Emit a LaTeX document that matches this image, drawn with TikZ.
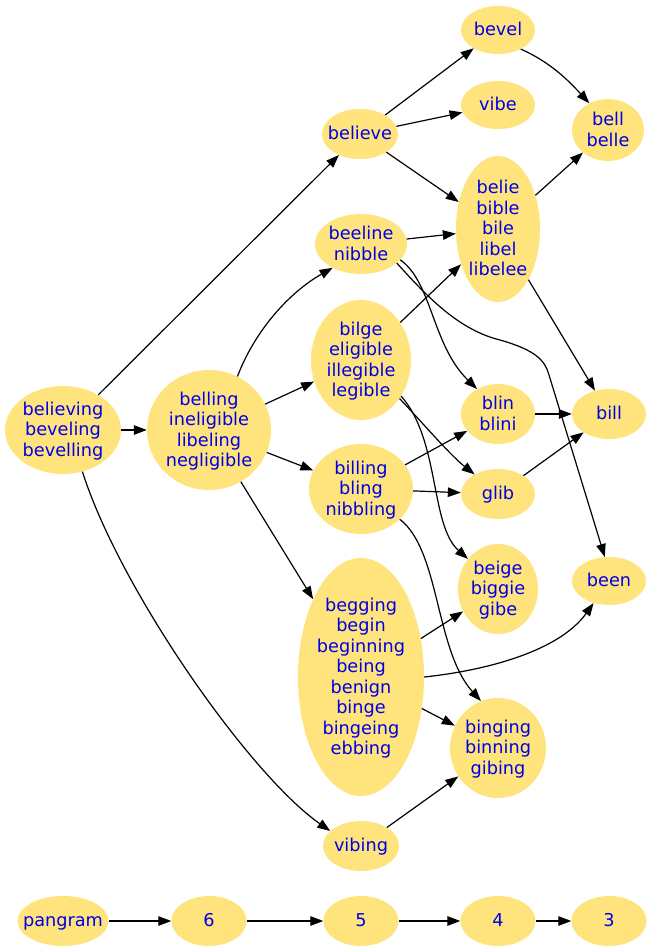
\documentclass[tikz,border=0pt]{standalone}
\usepackage{fontspec}
\setmainfont{DejaVu Sans}
\usetikzlibrary{shapes.geometric,arrows.meta}
\definecolor{nodefill}{RGB}{255,228,125}
\definecolor{nodetext}{RGB}{0,0,230}
\newcommand\lnstrut{\rule[-4.5pt]{0pt}{20.5pt}}
\tikzset{
  word/.style={ellipse, fill=nodefill, text=nodetext, inner xsep=-25pt, inner ysep=0pt, align=center,
    font=\fontsize{17.7}{20.5}\selectfont},
  arr/.style={draw=black, line width=1.2pt, -{Triangle[length=13pt,width=9.5pt]}}
}
\begin{document}
\begin{tikzpicture}[x=1pt,y=-1pt]
\useasboundingbox (0,0) rectangle (653,951);
% nodes
\node[word, minimum width=116, minimum height=88] (believing) at (63,430) {\lnstrut believing\\\lnstrut beveling\\\lnstrut bevelling};
\node[word, minimum width=124, minimum height=120] (belling) at (209,430) {\lnstrut belling\\\lnstrut ineligible\\\lnstrut libeling\\\lnstrut negligible};
\node[word, minimum width=76, minimum height=50] (believe) at (360,134) {\lnstrut believe};
\node[word, minimum width=74, minimum height=48] (bevel) at (498,30) {\lnstrut bevel};
\node[word, minimum width=74, minimum height=48] (vibe) at (498,105) {\lnstrut vibe};
\node[word, minimum width=72, minimum height=62] (bell) at (608,130) {\lnstrut bell\\\lnstrut belle};
\node[word, minimum width=84, minimum height=146] (belie) at (498,229) {\lnstrut belie\\\lnstrut bible\\\lnstrut bile\\\lnstrut libel\\\lnstrut libelee};
\node[word, minimum width=92, minimum height=60] (beeline) at (361,244) {\lnstrut beeline\\\lnstrut nibble};
\node[word, minimum width=100, minimum height=120] (bilge) at (361,360) {\lnstrut bilge\\\lnstrut eligible\\\lnstrut illegible\\\lnstrut legible};
\node[word, minimum width=74, minimum height=60] (blin) at (498,414) {\lnstrut blin\\\lnstrut blini};
\node[word, minimum width=74, minimum height=50] (bill) at (609,414) {\lnstrut bill};
\node[word, minimum width=104, minimum height=90] (billing) at (361,489) {\lnstrut billing\\\lnstrut bling\\\lnstrut nibbling};
\node[word, minimum width=74, minimum height=50] (glib) at (498,494) {\lnstrut glib};
\node[word, minimum width=80, minimum height=90] (beige) at (498,589) {\lnstrut beige\\\lnstrut biggie\\\lnstrut gibe};
\node[word, minimum width=74, minimum height=48] (been) at (609,581) {\lnstrut been};
\node[word, minimum width=126, minimum height=238] (begging) at (361,677) {\lnstrut begging\\\lnstrut begin\\\lnstrut beginning\\\lnstrut being\\\lnstrut benign\\\lnstrut binge\\\lnstrut bingeing\\\lnstrut ebbing};
\node[word, minimum width=96, minimum height=100] (binging) at (498,748) {\lnstrut binging\\\lnstrut binning\\\lnstrut gibing};
\node[word, minimum width=76, minimum height=50] (vibing) at (361,846) {\lnstrut vibing};
\node[word, minimum width=91, minimum height=50] (pangram) at (63,921) {\lnstrut pangram};
\node[word, minimum width=75, minimum height=50] (n6) at (209,921) {\lnstrut 6};
\node[word, minimum width=75, minimum height=50] (n5) at (361,921) {\lnstrut 5};
\node[word, minimum width=75, minimum height=50] (n4) at (498,921) {\lnstrut 4};
\node[word, minimum width=75, minimum height=50] (n3) at (609,921) {\lnstrut 3};
% straight edges
\draw[arr] (believing) -- (believe);
\draw[arr] (believing) -- (belling);
\draw[arr] (belling) -- (bilge);
\draw[arr] (belling) -- (billing);
\draw[arr] (belling) -- (begging);
\draw[arr] (believe) -- (bevel);
\draw[arr] (believe) -- (vibe);
\draw[arr] (believe) -- (belie);
\draw[arr] (belie) -- (bell);
\draw[arr] (belie) -- (bill);
\draw[arr] (beeline) -- (belie);
\draw[arr] (bilge) -- (belie);
\draw[arr] (billing) -- (blin);
\draw[arr] (billing) -- (glib);
\draw[arr] (blin) -- (bill);
\draw[arr] (glib) -- (bill);
\draw[arr] (begging) -- (beige);
\draw[arr] (begging) -- (binging);
\draw[arr] (vibing) -- (binging);
\draw[arr] (pangram) -- (n6);
\draw[arr] (n6) -- (n5);
\draw[arr] (n5) -- (n4);
\draw[arr] (n4) -- (n3);
% curved edges
\draw[arr] (bevel.-40) .. controls (550,62) and (568,80) .. (bell.125);
\draw[arr] (believing.-65) .. controls (120,590) and (250,775) .. (vibing.154);
\draw[arr] (belling.62) .. controls (255,330) and (290,292) .. (beeline.-140);
\draw[arr] (beeline.-22) .. controls (432,282) and (432,345) .. (blin.130);
\draw[arr] (beeline.-28) .. controls (430,300) and (460,330) .. (500,340)
   .. controls (535,350) and (545,360) .. (549,375) -- (been.100);
\draw[arr] (bilge.-45) .. controls (420,420) and (450,455) .. (glib.140);
\draw[arr] (bilge.-42) .. controls (440,440) and (430,525) .. (beige.135);
\draw[arr] (billing.-38) .. controls (440,550) and (435,650) .. (binging.110);
\draw[arr] (begging.0) .. controls (490,670) and (560,650) .. (been.-125);
\end{tikzpicture}
\end{document}
